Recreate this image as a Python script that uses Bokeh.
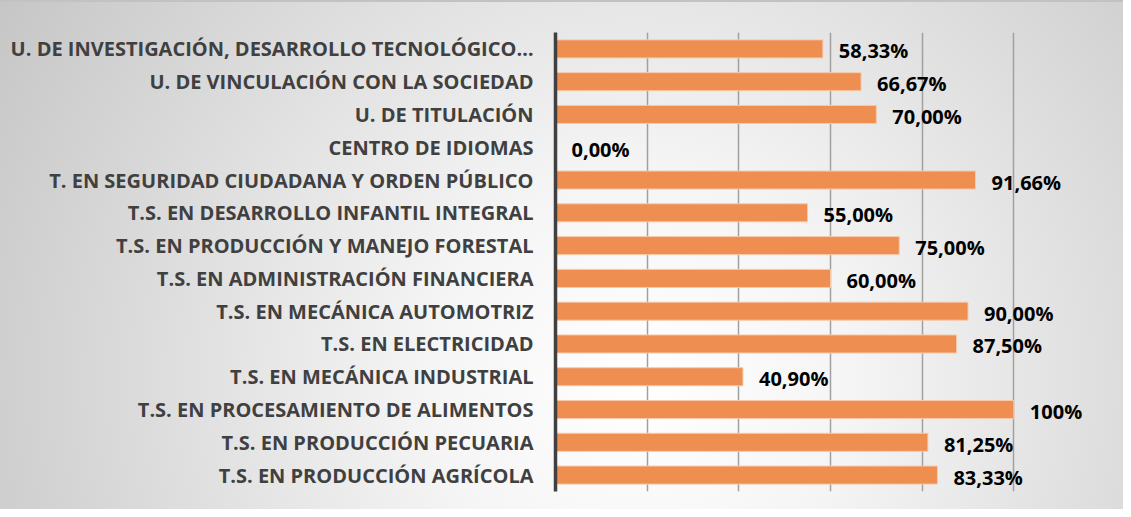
from bokeh.plotting import figure
from bokeh.models import FactorRange, Range1d, FixedTicker, ColumnDataSource, InlineStyleSheet
from bokeh.core.properties import value
from bokeh.embed import file_html
from bokeh.resources import INLINE

categories = [
    "U. DE INVESTIGACIÓN, DESARROLLO TECNOLÓGICO…",
    "U. DE VINCULACIÓN CON LA SOCIEDAD",
    "U. DE TITULACIÓN",
    "CENTRO DE IDIOMAS",
    "T. EN SEGURIDAD CIUDADANA Y ORDEN PÚBLICO",
    "T.S. EN DESARROLLO INFANTIL INTEGRAL",
    "T.S. EN PRODUCCIÓN Y MANEJO FORESTAL",
    "T.S. EN ADMINISTRACIÓN FINANCIERA",
    "T.S. EN MECÁNICA AUTOMOTRIZ",
    "T.S. EN ELECTRICIDAD",
    "T.S. EN MECÁNICA INDUSTRIAL",
    "T.S. EN PROCESAMIENTO DE ALIMENTOS",
    "T.S. EN PRODUCCIÓN PECUARIA",
    "T.S. EN PRODUCCIÓN AGRÍCOLA",
]
values = [58.33, 66.67, 70.00, 0.00, 91.66, 55.00, 75.00, 60.00, 90.00, 87.50, 40.90, 100.0, 81.25, 83.33]
value_labels = ["58,33%", "66,67%", "70,00%", "0,00%", "91,66%", "55,00%", "75,00%",
                "60,00%", "90,00%", "87,50%", "40,90%", "100%", "81,25%", "83,33%"]
grid_ticks = [0, 20, 40, 60, 80, 100, 120]

src = ColumnDataSource(dict(cat=categories, val=values, lab=value_labels))

bg_css = InlineStyleSheet(css="""
:host {
  background-color: #e6e6e6;
  background-image: radial-gradient(circle farthest-corner at 57% 75%, #ffffff 0%, #f5f5f5 28%, #c6c6c6 100%);
  border-top: 2px solid #c2c2c2;
  box-sizing: border-box;
}
""")

p = figure(
    width=1123, height=509,
    y_range=FactorRange(factors=list(reversed(categories)), range_padding=0),
    x_range=Range1d(0, 120),
    output_backend="svg", toolbar_location=None,
    min_border_left=555, min_border_right=18, min_border_top=30, min_border_bottom=20,
    stylesheets=[bg_css],
)
p.background_fill_color = None
p.border_fill_color = None
p.outline_line_color = None

p.hbar(y="cat", right="val", left=0, height=0.55, source=src,
       fill_color="#EE8E50", line_color="#F6C9A8", line_width=1)

p.text(x="val", y="cat", text="lab", source=src, x_offset=16, y_offset=2,
       text_font=value("Open Sans"), text_font_style="bold", text_font_size="20px",
       text_color="#000000", text_baseline="middle", text_align="left")

p.xaxis.visible = False
p.xgrid.ticker = FixedTicker(ticks=grid_ticks)
p.xgrid.grid_line_color = "#a0a0a0"
p.xgrid.grid_line_width = 1.5
p.ygrid.grid_line_color = None

ya = p.yaxis[0]
ya.axis_line_color = "#404040"
ya.axis_line_width = 3.5
ya.major_tick_line_color = None
ya.minor_tick_line_color = None
ya.major_tick_out = 0
ya.major_tick_in = 0
ya.major_label_standoff = 22
ya.major_label_text_font = "Open Sans"
ya.major_label_text_font_style = "bold"
ya.major_label_text_font_size = "20px"
ya.major_label_text_color = "#404040"

open("out.html", "w").write(file_html(p, INLINE))
